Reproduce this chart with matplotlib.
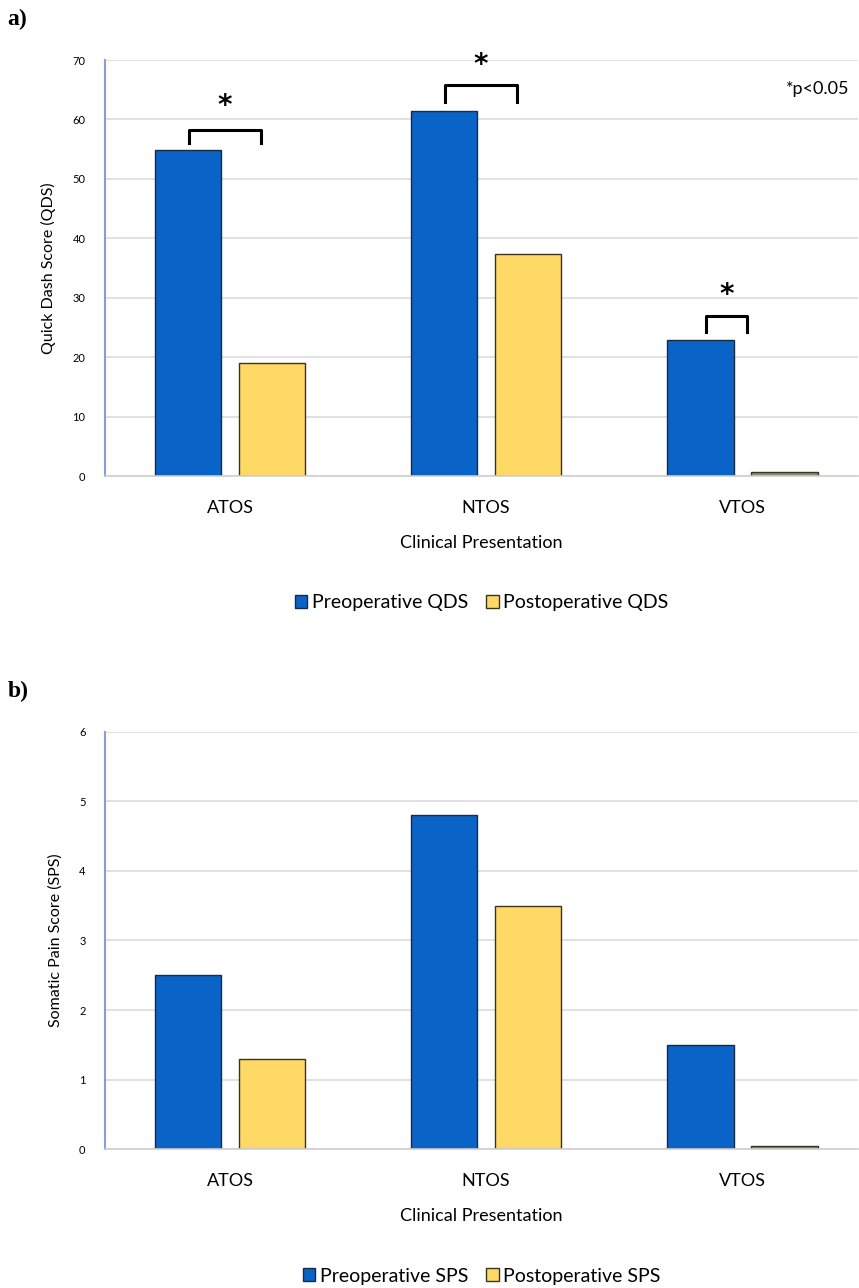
import matplotlib
matplotlib.use("Agg")
import matplotlib.pyplot as plt
import numpy as np

# data
categories = ["ATOS", "NTOS", "VTOS"]
pre_qds = [54.8, 61.4, 22.9]
post_qds = [19.0, 37.4, 0.6]
pre_sps = [2.5, 4.8, 1.5]
post_sps = [1.3, 3.5, 0.04]

# significance brackets for panel a: (category, x from, x to, bracket y, leg y, star y)
brackets = [
    (0, -0.16, 0.12, 58.3, 56.0, 62.3),
    (1, -0.16, 0.12, 65.8, 63.0, 69.2),
    (2, -0.14, 0.02, 27.0, 24.3, 30.5),
]

blue = "#0a63c6"
yellow = "#ffd966"
plt.rcParams["font.family"] = ["Lato", "DejaVu Sans"]

fig = plt.figure(figsize=(8.59, 12.88), dpi=100)
ax_a = fig.add_axes([0.1222, 0.6304, 0.877, 0.323])
ax_b = fig.add_axes([0.1222, 0.1079, 0.877, 0.3238])

x = np.arange(len(categories))
w = 0.26
off = 0.164


def style_axes(ax, ymax, step, ylabel):
    ax.set_xlim(-0.488, 2.453)
    ax.set_ylim(0, ymax)
    ax.set_yticks(np.arange(0, ymax + step / 2, step))
    ax.grid(axis="y", color="#dcdcdc", linewidth=1.2)
    ax.set_axisbelow(True)
    for s in ["top", "right"]:
        ax.spines[s].set_visible(False)
    ax.spines["left"].set_color("#8e9bd8")
    ax.spines["left"].set_linewidth(1.5)
    ax.spines["bottom"].set_color("#cfcfcf")
    ax.spines["bottom"].set_linewidth(1.2)
    ax.set_xticks(x)
    ax.set_xticklabels(categories, fontsize=13)
    ax.tick_params(axis="x", length=0, pad=17)
    ax.tick_params(axis="y", length=0, labelsize=8, pad=14)
    ax.set_xlabel("Clinical Presentation", fontsize=13, labelpad=14)
    ax.set_ylabel(ylabel, fontsize=11.5, labelpad=12)
    ax.legend(loc="center", bbox_to_anchor=(0.5, -0.305), ncol=2, frameon=False,
              fontsize=14, handlelength=0.65, handleheight=0.65, handletextpad=0.25,
              columnspacing=0.9)


ax_a.bar(x - off, pre_qds, w, color=blue, edgecolor="#1a2a40", linewidth=1,
         label="Preoperative QDS")
ax_a.bar(x + off, post_qds, w, color=yellow, edgecolor="#3a3320", linewidth=1,
         label="Postoperative QDS")
ax_a.patches[-1].set_facecolor("#8a8a7a")
style_axes(ax_a, 70, 10, "Quick Dash Score (QDS)")

for c, x0, x1, yb, yl, ys in brackets:
    ax_a.plot([c + x0, c + x0, c + x1, c + x1], [yl, yb, yb, yl], color="black", lw=2.2)
    ax_a.text(c + (x0 + x1) / 2, ys, "*", ha="center", va="center", fontsize=20,
              fontweight="bold", family="DejaVu Sans")
ax_a.text(2.42, 65.2, "*p<0.05", ha="right", va="center", fontsize=13)

ax_b.bar(x - off, pre_sps, w, color=blue, edgecolor="#1a2a40", linewidth=1,
         label="Preoperative SPS")
ax_b.bar(x + off, post_sps, w, color=yellow, edgecolor="#3a3320", linewidth=1,
         label="Postoperative SPS")
ax_b.patches[-1].set_facecolor("#8a8a7a")
style_axes(ax_b, 6, 1, "Somatic Pain Score (SPS)")

fig.text(0.009, 0.985, "a)", family="Liberation Serif", fontsize=17,
         fontweight="bold", va="center")
fig.text(0.009, 0.463, "b)", family="Liberation Serif", fontsize=17,
         fontweight="bold", va="center")

fig.savefig("out.png", dpi=100)
